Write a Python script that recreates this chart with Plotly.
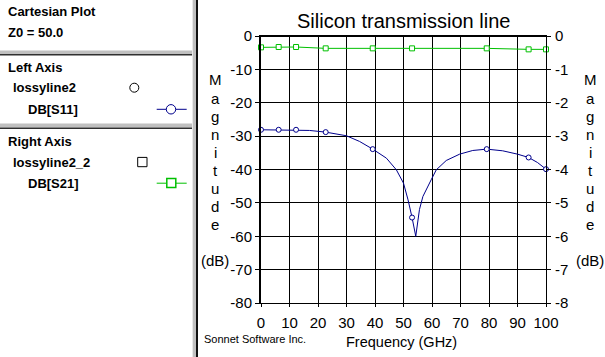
import plotly.graph_objects as go

# ---------------- data ----------------
freq_s11 = [0, 6.2, 12.3, 17, 22.7, 30, 34.6, 39.2, 44.0, 47.5, 50.0, 51.6, 53.0, 54.3,
            55.6, 56.8, 59.7, 61.5, 65.0, 69.7, 74.3, 79.2, 84.8, 90.0, 93.9, 97, 100]
db_s11 = [-28.1, -28.1, -28.1, -28.3, -28.8, -29.9, -31.6, -33.9, -36.6, -40.1, -44.1, -49.1, -54.4, -60.0,
          -52.0, -48.1, -43.1, -40.1, -37.3, -35.4, -34.3, -33.9, -34.4, -35.4, -36.4, -37.9, -39.9]

freq_markers = [0, 6.2, 12.3, 22.7, 39.2, 53.0, 79.2, 93.9, 100]
db_s11_markers = [-28.1, -28.1, -28.1, -28.8, -33.9, -54.4, -33.9, -36.4, -39.9]
db_s21_markers = [-0.34, -0.33, -0.33, -0.37, -0.37, -0.37, -0.37, -0.40, -0.40]

x_ticks = [0, 10, 20, 30, 40, 50, 60, 70, 80, 90, 100]
x_ticktext = ["0", "10", "20", "30", "40", "50", "60", "70", "80", "90", "100"]
yl_ticks = [0, -10, -20, -30, -40, -50, -60, -70, -80]
yl_ticktext = ["0", "-10", "-20", "-30", "-40", "-50", "-60", "-70", "-80"]
yr_ticks = [0, -1, -2, -3, -4, -5, -6, -7, -8]
yr_ticktext = ["0", "-1", "-2", "-3", "-4", "-5", "-6", "-7", "-8"]

title_text = "Silicon transmission line"
x_title = "Frequency (GHz)"
y_letters = ["M", "a", "g", "n", "i", "t", "u", "d", "e"]
y_unit = "(dB)"
credit = "Sonnet Software Inc."

# ---------------- layout geometry ----------------
W, H = 605, 357
L, R, T, B = 261, 59, 36, 54
PW, PH = W - L - R, H - T - B

def px(x):
    return (x - L) / PW

def py(y):
    return (H - B - y) / PH

BLUE = "#00008c"
GREEN = "#00c000"
FONT = "Arial, Liberation Sans, sans-serif"

fig = go.Figure()

fig.add_trace(go.Scatter(x=freq_s11, y=db_s11, mode="lines",
                         line=dict(color=BLUE, width=1), showlegend=False, hoverinfo="skip"))
fig.add_trace(go.Scatter(x=freq_markers, y=db_s11_markers, mode="markers",
                         marker=dict(symbol="circle", size=5, color="white",
                                     line=dict(color=BLUE, width=1)),
                         showlegend=False, cliponaxis=False))
fig.add_trace(go.Scatter(x=freq_markers, y=db_s21_markers, mode="lines+markers", yaxis="y2",
                         line=dict(color=GREEN, width=1),
                         marker=dict(symbol="square", size=5, color="white",
                                     line=dict(color=GREEN, width=1)),
                         showlegend=False, cliponaxis=False))

axis_font = dict(family=FONT, size=15, color="black")

fig.update_layout(
    width=W, height=H,
    margin=dict(l=L, r=R, t=T, b=B, pad=0),
    paper_bgcolor="white", plot_bgcolor="white",
    showlegend=False,
    xaxis=dict(range=[0, 100], tickvals=x_ticks, ticktext=x_ticktext,
               showgrid=True, gridcolor="black", gridwidth=1,
               showline=True, linecolor="black", linewidth=1, mirror=True,
               ticks="outside", ticklen=3, tickcolor="black", tickwidth=1,
               tickfont=axis_font, zeroline=False, fixedrange=True, ticklabelstandoff=3),
    yaxis=dict(range=[-80, 0], tickvals=yl_ticks, ticktext=yl_ticktext,
               showgrid=True, gridcolor="black", gridwidth=1,
               showline=True, linecolor="black", linewidth=2,
               ticks="outside", ticklen=4, tickcolor="black", tickwidth=1,
               tickfont=axis_font, zeroline=False, fixedrange=True, ticklabelstandoff=0),
    yaxis2=dict(range=[-8, 0], tickvals=yr_ticks, ticktext=yr_ticktext,
                overlaying="y", side="right", showgrid=False,
                showline=True, linecolor="black", linewidth=1,
                ticks="outside", ticklen=4, tickcolor="black", tickwidth=1,
                tickfont=axis_font, zeroline=False, fixedrange=True, ticklabelstandoff=1),
)

shapes = []
# thick top border of plot
shapes.append(dict(type="line", xref="paper", yref="paper", x0=px(259), x1=1, y0=1, y1=1,
                   line=dict(color="black", width=2)))
# vertical divider
shapes.append(dict(type="rect", xref="paper", yref="paper", x0=px(192), x1=px(196), y0=py(0), y1=py(H),
                   fillcolor="#c0c0c0", line=dict(width=0), layer="above"))
shapes.append(dict(type="rect", xref="paper", yref="paper", x0=px(192), x1=px(193), y0=py(0), y1=py(H),
                   fillcolor="#e8e8e8", line=dict(width=0), layer="above"))
shapes.append(dict(type="rect", xref="paper", yref="paper", x0=px(196), x1=px(198), y0=py(0), y1=py(H),
                   fillcolor="#101010", line=dict(width=0), layer="above"))
# horizontal dividers in side panel
for yg0, yg1, yd1 in [(50.5, 54, 55.5), (123.5, 127.5, 129)]:
    shapes.append(dict(type="rect", xref="paper", yref="paper", x0=px(0), x1=px(192),
                       y0=py(yg0), y1=py(yg1), fillcolor="#c0c0c0", line=dict(width=0), layer="above"))
    shapes.append(dict(type="rect", xref="paper", yref="paper", x0=px(0), x1=px(192),
                       y0=py(yg1), y1=py(yd1), fillcolor="#303030", line=dict(width=0), layer="above"))

# legend symbols in panel
shapes.append(dict(type="circle", xref="paper", yref="paper", x0=px(129.8), x1=px(138.8),
                   y0=py(92.2), y1=py(83.2), line=dict(color="black", width=1), fillcolor="white"))
shapes.append(dict(type="line", xref="paper", yref="paper", x0=px(156.7), x1=px(186.7),
                   y0=py(109.3), y1=py(109.3), line=dict(color=BLUE, width=1)))
shapes.append(dict(type="circle", xref="paper", yref="paper", x0=px(166.3), x1=px(175.7),
                   y0=py(114), y1=py(104.6), line=dict(color=BLUE, width=1), fillcolor="white"))
shapes.append(dict(type="rect", xref="paper", yref="paper", x0=px(137.7), x1=px(147),
                   y0=py(166.7), y1=py(157.4), line=dict(color="black", width=1), fillcolor="white"))
shapes.append(dict(type="line", xref="paper", yref="paper", x0=px(156.7), x1=px(186.7),
                   y0=py(183.2), y1=py(183.2), line=dict(color=GREEN, width=1)))
shapes.append(dict(type="rect", xref="paper", yref="paper", x0=px(166.8), x1=px(175.8),
                   y0=py(187.6), y1=py(178.6), line=dict(color=GREEN, width=1.5), fillcolor="white"))
fig.update_layout(shapes=shapes)

ann = []
def text(t, x, y, size, bold=False, xanchor="left", color="black"):
    ann.append(dict(text=("<b>%s</b>" % t) if bold else t, x=px(x), y=py(y),
                    xref="paper", yref="paper", xanchor=xanchor, yanchor="middle",
                    showarrow=False, font=dict(family=FONT, size=size, color=color)))

text("Cartesian Plot", 5.5, 11.7, 13, bold=True)
text("Z0 = 50.0", 5.5, 32.7, 13, bold=True)
text("Left Axis", 5.5, 67.3, 13, bold=True)
text("lossyline2", 10.5, 87.7, 13, bold=True)
text("DB[S11]", 25.5, 109.3, 13, bold=True)
text("Right Axis", 5.5, 141.3, 13, bold=True)
text("lossyline2_2", 10.5, 162, 13, bold=True)
text("DB[S21]", 25.5, 183.7, 13, bold=True)

text(title_text, 403, 21.5, 20, xanchor="center")
text(x_title, 401.7, 342.3, 14.5, xanchor="center")
text(credit, 201.5, 339, 11)

for i, letter in enumerate(y_letters):
    yy = 80 + 18.1 * i
    text(letter, 215, yy, 15, xanchor="center")
    text(letter, 590, yy, 15, xanchor="center")
text(y_unit, 215, 260, 15, xanchor="center")
text(y_unit, 590, 260, 15, xanchor="center")
fig.update_layout(annotations=ann)

fig.write_html("out.html", config={"displayModeBar": False, "staticPlot": True},
               post_script="document.body.style.margin='0';")
